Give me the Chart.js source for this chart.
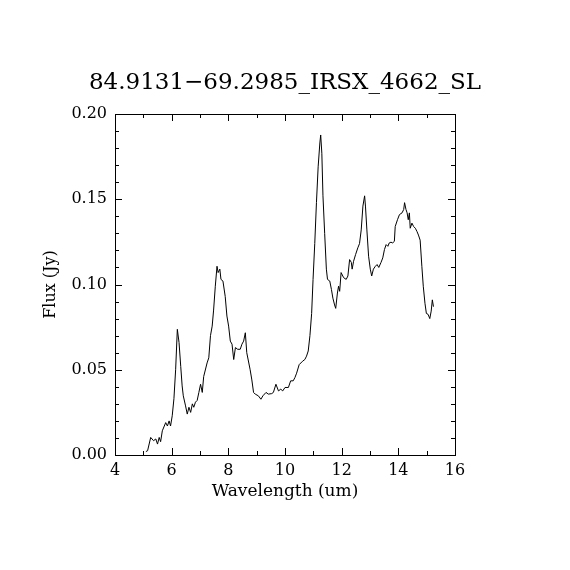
<!DOCTYPE html>
<html>
<head>
<meta charset="utf-8">
<script src="https://cdn.jsdelivr.net/npm/chart.js@4/dist/chart.umd.min.js"></script>
<style>
html,body{margin:0;padding:0;background:#fff;}
#wrap{width:570px;height:570px;}
</style>
</head>
<body>
<div id="wrap"><canvas id="spec" width="570" height="570"></canvas></div>
<script>
// spectrum
const wavelength = [
5.09,5.15,5.26,5.36,5.44,5.50,5.56,5.61,5.67,5.79,5.85,5.91,5.96,6.02,6.08,6.14,6.20,6.26,6.32,6.37,
6.41,6.49,6.55,6.61,6.67,6.73,6.78,6.84,6.90,6.96,7.02,7.08,7.13,7.25,7.31,7.37,7.43,7.48,7.54,7.60,
7.64,7.70,7.74,7.81,7.89,7.95,8.01,8.07,8.13,8.19,8.25,8.33,8.42,8.48,8.54,8.60,8.65,8.77,8.83,8.89,
8.95,9.06,9.15,9.22,9.33,9.41,9.53,9.59,9.68,9.77,9.85,9.92,10.00,10.12,10.20,10.29,10.35,10.41,10.50,10.62,
10.70,10.76,10.82,10.88,10.94,10.99,11.05,11.11,11.17,11.23,11.26,11.30,11.34,11.40,11.46,11.50,11.58,11.64,11.69,11.75,
11.79,11.85,11.89,11.93,11.98,12.07,12.16,12.22,12.28,12.34,12.37,12.42,12.49,12.57,12.63,12.69,12.75,12.81,12.84,12.89,
12.95,13.01,13.06,13.12,13.19,13.25,13.31,13.39,13.45,13.51,13.57,13.63,13.68,13.74,13.80,13.86,13.89,13.97,14.04,14.13,
14.19,14.22,14.27,14.31,14.35,14.39,14.42,14.48,14.54,14.60,14.66,14.71,14.77,14.83,14.88,14.94,14.99,15.05,15.11,15.16,
15.20,15.24
];
const flux = [
0.0020,0.0025,0.0103,0.0084,0.0094,0.0064,0.0103,0.0078,0.0142,0.0190,0.0170,0.0200,0.0170,0.0230,0.0330,0.0500,0.0737,0.0660,0.0520,0.0405,
0.0347,0.0288,0.0240,0.0280,0.0250,0.0300,0.0280,0.0310,0.0320,0.0367,0.0415,0.0367,0.0460,0.0540,0.0570,0.0700,0.0756,0.0850,0.0990,0.1107,
0.1070,0.1090,0.1030,0.1020,0.0930,0.0815,0.0756,0.0668,0.0650,0.0560,0.0630,0.0620,0.0620,0.0650,0.0668,0.0717,0.0600,0.0500,0.0440,0.0367,
0.0357,0.0347,0.0327,0.0347,0.0367,0.0357,0.0360,0.0367,0.0415,0.0376,0.0386,0.0376,0.0396,0.0396,0.0435,0.0435,0.0454,0.0480,0.0530,0.0550,
0.0560,0.0580,0.0610,0.0700,0.0830,0.1030,0.1240,0.1480,0.1690,0.1830,0.1877,0.1770,0.1520,0.1300,0.1090,0.1030,0.1020,0.0970,0.0920,0.0880,
0.0860,0.0950,0.0990,0.0960,0.1070,0.1040,0.1030,0.1050,0.1146,0.1130,0.1090,0.1136,0.1175,0.1215,0.1240,0.1320,0.1460,0.1520,0.1460,0.1320,
0.1166,0.1090,0.1050,0.1090,0.1107,0.1117,0.1100,0.1130,0.1156,0.1205,0.1234,0.1224,0.1244,0.1248,0.1244,0.1253,0.1340,0.1380,0.1410,0.1420,
0.1440,0.1480,0.1440,0.1420,0.1380,0.1420,0.1330,0.1360,0.1340,0.1330,0.1310,0.1290,0.1260,0.1107,0.0990,0.0890,0.0830,0.0825,0.0800,0.0844,
0.0910,0.0870
];
const xRange = [4, 16];
const yRange = [0, 0.20];
const xMajor = 2, xMinor = 1;
const yMajor = 0.05, yMinor = 0.01;

const titleText = '84.9131\u221269.2985_IRSX_4662_SL';
const FONT = "'DejaVu Serif', serif";

const points = wavelength.map((w,i)=>({x:w, y:flux[i]}));

// IDL style box with inward ticks on all four sides, plus the centred title
const boxPlugin = {
  id:'box',
  afterDatasetsDraw(chart){
    const {ctx, chartArea:a, scales:{x, y}} = chart;
    ctx.save();
    ctx.strokeStyle = '#000';
    ctx.lineWidth = 1;
    ctx.strokeRect(Math.round(a.left)+0.5, Math.round(a.top)+0.5, Math.round(a.right-a.left), Math.round(a.bottom-a.top));
    ctx.beginPath();
    for(let v = xRange[0]; v <= xRange[1]+1e-9; v += xMinor){
      const px = Math.round(x.getPixelForValue(v))+0.5;
      const len = (Math.abs(v/xMajor - Math.round(v/xMajor)) < 1e-6) ? 7 : 4;
      ctx.moveTo(px, a.bottom); ctx.lineTo(px, a.bottom-len);
      ctx.moveTo(px, a.top); ctx.lineTo(px, a.top+len);
    }
    for(let v = yRange[0]; v <= yRange[1]+1e-9; v += yMinor){
      const py = Math.round(y.getPixelForValue(v))+0.5;
      const len = (Math.abs(v/yMajor - Math.round(v/yMajor)) < 1e-6) ? 7 : 4;
      ctx.moveTo(a.left, py); ctx.lineTo(a.left+len, py);
      ctx.moveTo(a.right, py); ctx.lineTo(a.right-len, py);
    }
    ctx.stroke();
    // title
    ctx.fillStyle = '#000';
    ctx.font = "23px " + FONT;
    ctx.textAlign = 'center';
    ctx.textBaseline = 'alphabetic';
    ctx.fillText(titleText, (a.left+a.right)/2, 89);
    ctx.restore();
  }
};

new Chart(document.getElementById('spec').getContext('2d'), {
  type:'line',
  data:{datasets:[{data:points, borderColor:'#000', borderWidth:1, pointRadius:0, tension:0, fill:false}]},
  options:{
    responsive:false,
    animation:false,
    layout:{padding:{left:20, right:115, top:114, bottom:45}},
    plugins:{
      legend:{display:false},
      tooltip:{enabled:false},
      title:{display:false}
    },
    scales:{
      x:{type:'linear', min:xRange[0], max:xRange[1],
        grid:{display:false, drawTicks:false}, border:{display:false},
        ticks:{stepSize:xMajor, color:'#000', padding:6, maxRotation:0,
          font:{family:FONT, size:16}, callback:v=>String(v)},
        title:{display:true, text:'Wavelength (um)', color:'#000',
          font:{family:FONT, size:17}, padding:{top:0, bottom:23}},
        afterFit(s){ s.height = 70; }
      },
      y:{type:'linear', min:yRange[0], max:yRange[1],
        grid:{display:false, drawTicks:false}, border:{display:false},
        ticks:{stepSize:yMajor, color:'#000', padding:8,
          font:{family:FONT, size:16}, callback:v=>v.toFixed(2)},
        title:{display:true, text:'Flux (Jy)', color:'#000',
          font:{family:FONT, size:16}, padding:{top:21, bottom:0}},
        afterFit(s){ s.width = 95; }
      }
    }
  },
  plugins:[boxPlugin]
});
</script>
</body>
</html>
